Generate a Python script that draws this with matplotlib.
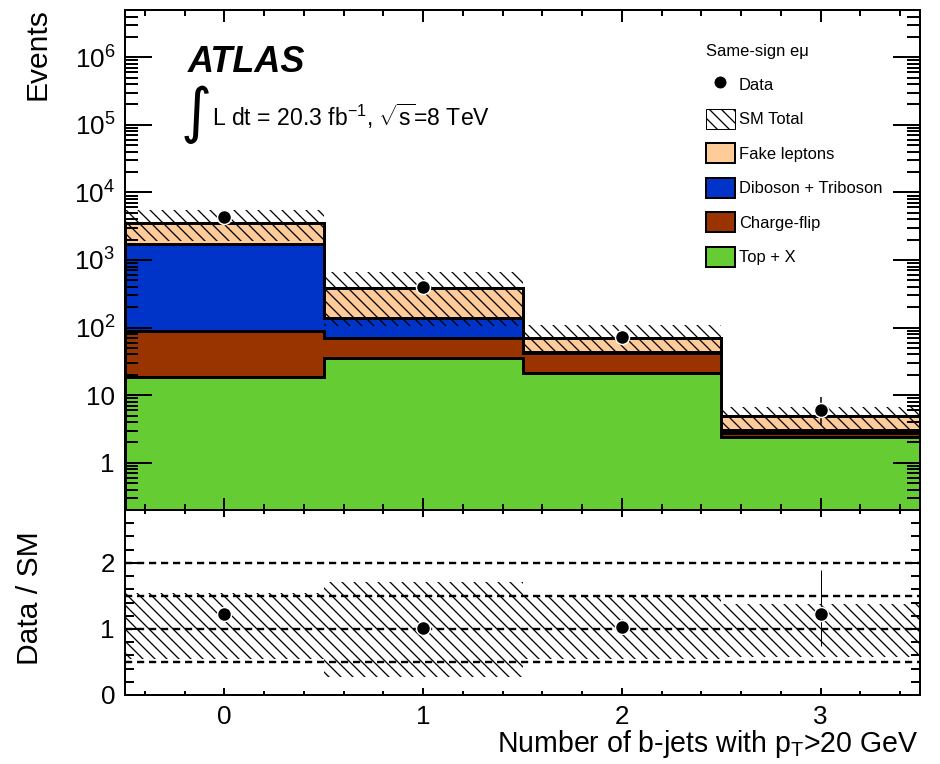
import numpy as np
import matplotlib
matplotlib.use("Agg")
import matplotlib.pyplot as plt
from matplotlib.patches import Patch
from matplotlib.lines import Line2D
from matplotlib.ticker import LogLocator, FuncFormatter, MultipleLocator, NullFormatter

plt.rcParams['font.family'] = ['Liberation Sans', 'DejaVu Sans']
plt.rcParams['mathtext.fontset'] = 'custom'
plt.rcParams['mathtext.rm'] = 'Liberation Sans'
plt.rcParams['mathtext.it'] = 'Liberation Sans:italic'
plt.rcParams['mathtext.bf'] = 'Liberation Sans:bold'
plt.rcParams['hatch.linewidth'] = 1.3

# bins: number of b-jets
edges = np.array([-0.5, 0.5, 1.5, 2.5, 3.5])
centers = np.array([0, 1, 2, 3])

# stacked backgrounds (events)
top_x = np.array([18.4, 36.0, 21.0, 2.4])
charge_flip = np.array([71.6, 35.0, 20.5, 0.36])
diboson = np.array([1630.0, 69.0, 1.5, 0.3])
fake = np.array([1780.0, 247.0, 28.0, 1.84])

# data
data = np.array([4270, 395, 73, 6])
data_err_lo = np.array([65, 20, 8.5, 2.4])
data_err_hi = np.array([65, 20, 8.5, 3.3])

# SM total uncertainty band, relative to SM total
band_lo = np.array([0.55, 0.27, 0.55, 0.57])
band_hi = np.array([1.55, 1.71, 1.52, 1.38])

c_fake = '#ffcc99'
c_dib = '#0033c8'
c_cf = '#993300'
c_top = '#66cc33'

fig = plt.figure(figsize=(940/72, 764/72), dpi=72)
ax = fig.add_axes([125/940, 1-510/764, 795/940, 500/764])
rax = fig.add_axes([125/940, 1-695/764, 795/940, 185/764])

cum1 = top_x
cum2 = cum1 + charge_flip
cum3 = cum2 + diboson
total = cum3 + fake

base = 1e-3
for vals, col in [(total, c_fake), (cum3, c_dib), (cum2, c_cf), (cum1, c_top)]:
    ax.stairs(vals, edges, baseline=base, fill=True, facecolor=col, edgecolor='none', zorder=1)
    ax.stairs(vals, edges, baseline=base, fill=False, edgecolor='black', linewidth=3, zorder=2)

ax.stairs(total*band_hi, edges, baseline=total*band_lo, fill=True, facecolor='none',
          edgecolor='black', hatch='\\\\', linewidth=0, zorder=3)

ax.errorbar(centers, data, yerr=[data_err_lo, data_err_hi], fmt='o', color='black',
            ms=14, mfc='black', mec='white', mew=1.5, elinewidth=1.5, capsize=0, zorder=5)

ax.set_yscale('log')
ax.set_ylim(0.2, 5e6)
ax.set_xlim(-0.5, 3.5)

def logfmt(v, pos):
    n = int(round(np.log10(v)))
    if n == 0:
        return '1'
    if n == 1:
        return '10'
    return r'$10^{%d}$' % n

ax.yaxis.set_major_locator(LogLocator(base=10, numticks=20))
ax.yaxis.set_minor_locator(LogLocator(base=10, subs=np.arange(2, 10), numticks=20))
ax.yaxis.set_major_formatter(FuncFormatter(logfmt))
ax.yaxis.set_minor_formatter(NullFormatter())
ax.xaxis.set_major_locator(MultipleLocator(1))
ax.xaxis.set_minor_locator(MultipleLocator(0.2))
ax.tick_params(axis='both', which='both', direction='in', top=True, right=True, width=2)
ax.tick_params(axis='y', which='major', length=27, labelsize=26, pad=10)
ax.tick_params(axis='y', which='minor', length=13)
ax.tick_params(axis='x', which='major', length=12, labelbottom=False)
ax.tick_params(axis='x', which='minor', length=6)
for s in ax.spines.values():
    s.set_linewidth(2)

# legend
handles = [
    Line2D([], [], marker='o', ls='none', color='black', ms=13, mec='white'),
    Patch(facecolor='white', edgecolor='black', hatch='\\\\', linewidth=1),
    Patch(facecolor=c_fake, edgecolor='black', linewidth=2),
    Patch(facecolor=c_dib, edgecolor='black', linewidth=2),
    Patch(facecolor=c_cf, edgecolor='black', linewidth=2),
    Patch(facecolor=c_top, edgecolor='black', linewidth=2),
]
labels = ['Data', 'SM Total', 'Fake leptons', 'Diboson + Triboson', 'Charge-flip', 'Top + X']
leg = ax.legend(handles, labels, title='Same-sign e\u03bc', loc='upper left',
                bbox_to_anchor=(0.72, 0.948), frameon=False, fontsize=16.5, title_fontsize=16.5,
                handlelength=1.75, handleheight=1.5, handletextpad=0.25, labelspacing=0.87,
                borderpad=0, alignment='left')
leg._legend_box.sep = 15

ax.text(0.079, 0.876, 'ATLAS', transform=ax.transAxes, fontsize=36, fontweight='bold',
        fontstyle='italic', ha='left', va='baseline')
ax.text(0.07, 0.758, '\u222b', transform=ax.transAxes, fontsize=60, family='DejaVu Sans',
        ha='left', va='baseline')
ax.text(0.11, 0.768, r'L dt = 20.3 fb$^{-1}$, $\sqrt{\mathrm{s}}$=8 TeV', transform=ax.transAxes,
        fontsize=23, ha='left', va='baseline')

# ratio panel
ratio = data / total
rax.stairs(band_hi, edges, baseline=band_lo, fill=True, facecolor='none',
           edgecolor='black', hatch='\\\\', linewidth=0, zorder=1)
for yl in [0.5, 1.0, 1.5, 2.0]:
    rax.axhline(yl, color='black', lw=2.4, dashes=(3, 2), zorder=2)
rax.errorbar(centers, ratio, yerr=[data_err_lo/total, data_err_hi/total], fmt='o',
             color='black', ms=14, mfc='black', mec='white', mew=1.5, elinewidth=1,
             capsize=0, zorder=5)
rax.set_xlim(-0.5, 3.5)
rax.set_ylim(0, 2.8)
rax.xaxis.set_major_locator(MultipleLocator(1))
rax.xaxis.set_minor_locator(MultipleLocator(0.2))
rax.yaxis.set_major_locator(MultipleLocator(1))
rax.yaxis.set_minor_locator(MultipleLocator(0.2))
rax.tick_params(axis='both', which='both', direction='in', top=True, right=True, width=2)
rax.tick_params(axis='y', which='major', length=14, labelsize=26, pad=10)
rax.tick_params(axis='y', which='minor', length=9)
rax.tick_params(axis='x', which='major', length=7, labelsize=26, pad=10)
rax.tick_params(axis='x', which='minor', length=4)
for s in rax.spines.values():
    s.set_linewidth(2)

fig.text(37/940, 1-8/764, 'Events', rotation=90, ha='center', va='top', fontsize=30)
fig.text(30/940, 1-598/764, 'Data / SM', rotation=90, ha='center', va='center', fontsize=30)
fig.text(918/940, 1-752/764, r'Number of b-jets with p$_\mathrm{T}$>20 GeV', ha='right',
         va='baseline', fontsize=28.5)

fig.savefig('out.png', dpi=72)
